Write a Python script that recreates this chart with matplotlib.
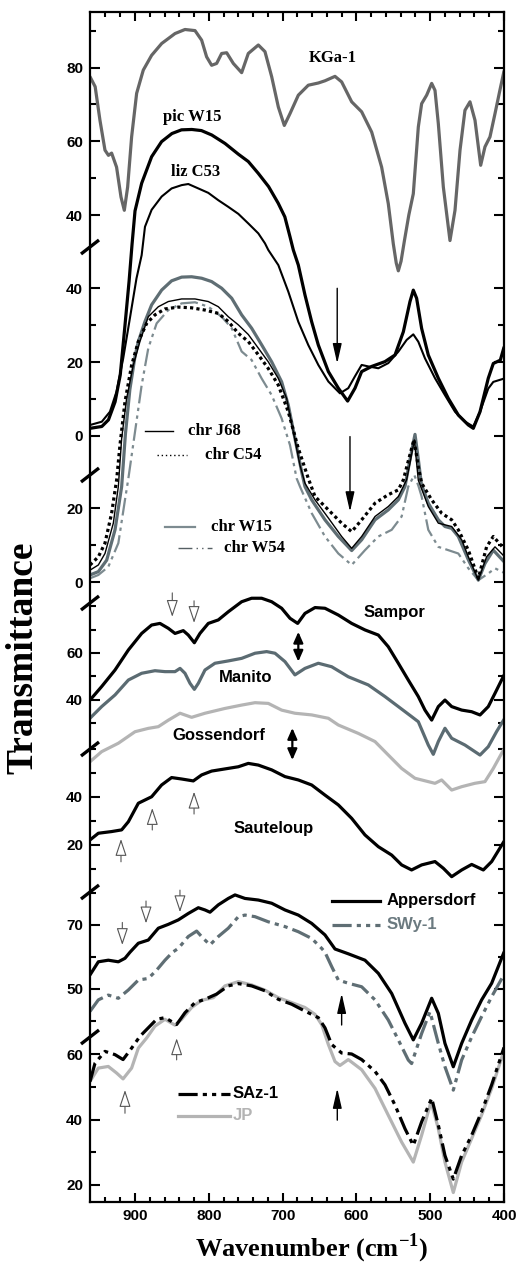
import matplotlib
matplotlib.use("Agg")
import matplotlib.pyplot as plt
import numpy as np

# ---------------- DATA (wavenumber in cm-1, transmittance in each panel's own units) -------------
kga1_wn = [961, 954, 947.5, 940.7, 936, 931.7, 925, 919, 914.5, 910, 904.6, 897.8, 888.8, 877.5, 863.9,
           845.8, 832.3, 818.7, 809.7, 803, 796.2, 789.4, 782.6, 775.8, 766.8, 755.5, 746.5, 732.9, 723.9,
           714.8, 705.8, 697.7, 690, 678.7, 665.2, 651.6, 642.6, 629, 620, 606.4, 592.9, 579.3, 565.8,
           556.8, 550, 546, 543.2, 539.5, 535, 529, 522.9, 516.1, 511.6, 504.8, 498, 493.5, 489, 482.2,
           473.2, 466.4, 459.6, 452.9, 446.1, 439.3, 431.6, 425.8, 419, 412.2, 405.6, 400]
kga1_t = [77.5, 74.8, 65.7, 57.6, 56.2, 56.8, 53, 44.9, 41.3, 47.6, 61.2, 73, 79.3, 83.3, 86.5,
          89.2, 90.3, 90, 87.4, 82.9, 80.6, 81.1, 83.8, 84, 81.1, 78.6, 83.8, 86.1, 84.3,
          77.5, 69.3, 64.3, 67.5, 72.5, 75.2, 75.8, 76.4, 77.6, 76.1, 70.7, 68, 62.5, 53,
          43.1, 32.2, 27, 24.9, 27.5, 33, 40, 45.8, 63.9, 70.2, 72.5, 75.7, 73.8, 64.8, 47.6,
          33.1, 41.3, 57.6, 68.4, 70.7, 65.7, 53.5, 58.5, 61.2, 67.5, 73.8, 79]

picw15_wn = [961, 945, 936, 927, 920, 914, 908, 904, 900, 891, 877.5, 864, 850, 837, 823, 810, 796, 778,
             760, 746.5, 733, 719, 706, 697, 690, 685.5, 678.7, 669.7, 660.6, 651.6, 638, 624.5, 611.9,
             601.9, 592.9, 579.3, 561.3, 547.7, 536.4, 527.4, 522.9, 518.4, 511.6, 502.6, 489, 475.4,
             461.9, 448.3, 441.6, 432.5, 421.3, 414.5, 405, 400]
picw15_t = [2.0, 2.5, 4.3, 9.2, 16.5, 29.1, 42, 52, 61, 68.5, 75.7, 79.8, 82, 83, 83.1, 82.8, 81.6, 79.3,
            76.4, 74.4, 71.2, 67.6, 63.1, 59.4, 54, 50.4, 46.3, 38.2, 30.9, 24.6, 17.4, 12.9, 9.4,
            12.9, 17.4, 18.8, 20.1, 21.9, 28.2, 36.4, 39.5, 37.3, 29.1, 21.9, 15.6, 10.1,
            5.6, 2.9, 2.0, 6.5, 15.6, 19.6, 20.5, 24]

lizc53_wn = [961, 945, 934, 925, 916, 907, 898, 891, 886.5, 877.5, 863.9, 850.4, 836.8, 827.8, 814.2,
             800.7, 787.1, 773.6, 760, 746.5, 732.9, 723.9, 719.4, 705.8, 692.3, 678.7, 665.2, 651.6,
             638, 622.3, 611, 602, 592.9, 583.9, 570.3, 556.8, 543.2, 531.9, 522.9, 516.1, 507.1,
             493.5, 480, 466.4, 452.9, 441.6, 432.5, 421.3, 414.5, 400]
lizc53_t = [2.9, 3.8, 6.5, 12, 21, 31.8, 42.7, 49, 56.7, 61.3, 64.9, 67.1, 68, 68.3, 67.1,
            65.9, 63.9, 62.1, 60.2, 57.6, 54.9, 52.2, 50.4, 46.3, 39.1, 30.9, 24.6, 19.2,
            14.7, 11.5, 12.9, 16.1, 19.2, 18.8, 18.3, 19.7, 22.8, 26, 27.5, 25.5, 21,
            15.6, 11, 6.5, 3.8, 2.5, 6.5, 12.8, 14.6, 15.5]

chrj68_wn = [961, 949.7, 940.7, 929.4, 922.6, 918.1, 911.4, 902.3, 893.3, 882, 868.4, 854.9, 836.8, 818.7,
             800.7, 787.1, 773.6, 760, 746.5, 732.9, 719.4, 705.8, 694.5, 685.5, 676.5, 669.7, 656.1,
             638, 620, 606.4, 592.9, 574.8, 556.8, 543.2, 532, 527, 521.5, 516.1, 502.6, 489, 470.9,
             457.3, 448.3, 434.8, 423.6, 412.2, 400]
chrj68_t = [3.2, 4.6, 7.7, 15.9, 25.8, 38.8, 49.6, 58.6, 65, 71.7, 74.4, 75.8, 76.5, 76.5,
            75.8, 74.4, 71.7, 69.5, 66.9, 63.2, 59.5, 55, 49.6, 40.6, 31.6, 26.7, 22.2,
            17.3, 12.3, 9.1, 12.3, 17.7, 20.4, 23.1, 27.6, 32.5, 38.4, 27.5, 20.4, 15.9, 15,
            11.4, 6.8, 0.5, 6.8, 9.5, 7]

chrc54_wn = [961, 949.7, 940.7, 931.7, 924.9, 920.4, 913.6, 904.6, 895.5, 884.2, 873, 859.4, 841.3, 823.3,
             805.2, 787.1, 773.6, 760, 746.5, 732.9, 719.4, 705.8, 692.3, 678.7, 665.2, 656.1, 638, 620,
             606.4, 592.9, 574.8, 556.8, 543.2, 536.4, 528, 522, 516, 511.6, 498, 484.5, 470.9, 461.9,
             448.3, 434.8, 423.6, 414.5, 400]
chrc54_t = [4.6, 6.8, 10.5, 18.6, 27.6, 37, 48.7, 58.6, 65, 69.9, 72.2, 73.8, 74.3, 74.1,
            73.5, 72.6, 70.4, 67.2, 65, 61.4, 57.7, 53.2, 46, 36.1, 28, 23.1, 19.5, 15.9,
            13.6, 16.8, 21.3, 23.6, 24.9, 27.6, 34, 38.5, 31, 26.7, 22.2, 18.6, 16.8, 14.1,
            8.6, 1, 9.5, 12.3, 9]

chrw15_wn = [961, 949.7, 938.4, 927.1, 918.1, 913, 907, 900, 895.5, 886.5, 877.5, 863.9, 850.4, 836.8,
             823.3, 809.7, 796.2, 782.6, 769, 755.5, 742, 728.4, 714.8, 701.3, 692.3, 683.3, 674.2,
             669.7, 660.6, 642.6, 624.5, 606.4, 592.9, 574.8, 556.8, 543.2, 534.2, 527.5, 520.6, 516,
             512, 502.6, 489, 480, 470.9, 461.9, 448.3, 434.8, 425.8, 414.5, 400]
chrw15_t = [1.9, 2.8, 5.9, 14.1, 25.8, 40, 52, 61, 65, 70.4, 74.9, 78.9, 81.4, 82.4,
            82.5, 82.1, 81.2, 79.4, 76.7, 72.2, 68.6, 64.1, 59.5, 54.1, 47.8, 38.8, 29.8,
            25.8, 22.2, 16.8, 12.3, 8.5, 11.4, 16.8, 19.5, 22.2, 25.8, 33, 39.9, 33,
            26.5, 21.3, 16.8, 15, 14.5, 12.3, 6, 0.5, 5, 8.6, 5.5]

chrw54_wn = [961, 949.7, 936.2, 922.6, 913.6, 909, 900, 891, 882, 870.7, 854.9, 836.8, 818.7, 800.7,
             782.6, 769, 755.5, 742, 728.4, 714.8, 701.3, 690, 681, 676.5, 660.6, 642.6, 624.5, 606.4,
             588.4, 570.3, 552.2, 538.7, 529.7, 521.5, 516, 511.6, 502.6, 489, 475.4, 461.9, 448.3,
             434.8, 421.3, 412.2, 400]
chrw54_t = [1, 1.9, 4.1, 10.5, 22.2, 28, 40.6, 53.2, 63.2, 69.9, 73.5, 75.3, 75.6, 74.4,
            71.7, 68.6, 62.3, 60, 55, 50.5, 44.2, 37, 28, 25.8, 18.6, 12.3, 7.7, 4.6,
            8.6, 12.3, 14.1, 17.7, 25.8, 28.9, 26, 23.1, 14.1, 9.5, 8.6, 7.7, 3.7,
            0.5, 2.3, 3.7, 2.5]

sampor_wn = [961, 945.2, 927.1, 909, 891, 877.5, 866.2, 854.9, 845.8, 834.6, 827.8, 819.6, 812, 800.7,
             787.1, 773.6, 755.5, 742, 728.4, 714.8, 701.3, 690, 679.6, 669.7, 656.1, 642.6, 624.5,
             606.4, 588.4, 570.3, 556.8, 543.2, 529.7, 516.1, 507.1, 498, 489, 480, 470.9, 457.3,
             443.8, 432.5, 421.3, 412.2, 400]
sampor_t = [39.8, 45.6, 52.7, 61.3, 68.4, 72, 72.7, 70.6, 68.4, 69.6, 67.7, 64.4, 68.4, 72.7,
            74.2, 77.7, 82, 83.5, 83.5, 82, 79.2, 74.9, 72.7, 77, 79.5, 79.2, 76.3,
            72.7, 69.9, 67.7, 62.7, 55.6, 48.4, 41.3, 35.5, 31.2, 37, 39.8, 37, 35.5,
            34.8, 33.4, 37, 42.7, 50.5]

manito_wn = [961, 945.2, 927.1, 909, 891, 873, 859.4, 845.8, 839, 832.3, 825.5, 819.6, 814.2, 805.2,
             791.7, 773.6, 755.5, 737.4, 721.6, 710.3, 696.8, 683.3, 669.7, 651.6, 633.5, 611, 583.9,
             561.3, 543.2, 525.2, 516.1, 502.6, 495.8, 489, 480, 470.9, 452.9, 432.5, 421.3, 410, 400]
manito_t = [32, 37, 42, 48.4, 51.3, 52.4, 52, 52, 53.4, 51.3, 47, 44.4, 47, 52.7,
            55.6, 56.6, 57.7, 59.9, 60.6, 59.9, 56.3, 50.6, 53.4, 55.6, 54.1, 49.8, 46.3,
            41.3, 37, 32.7, 30.5, 20.5, 16.5, 22, 27.7, 23.4, 20.5, 16.2, 19.8, 26.3, 31.5]

gossendorf_wn = [961, 945.2, 922.6, 900, 882, 868.4, 854.9, 839, 823.3, 805.2, 778.1, 755.5, 737.4, 719.4,
                 701.3, 683.3, 660.6, 638, 624.5, 597.4, 574.8, 556.8, 538.7, 520.6, 502.6, 493.5, 484.5,
                 470.9, 457.3, 439.6, 425.8, 414.5, 400]
gossendorf_t = [54.7, 58.9, 62.4, 67.2, 68.6, 69.3, 72, 74.9, 73.2, 74.9, 76.9, 78.3, 79.3, 79,
                76.2, 74.9, 74.2, 72.8, 70, 66.5, 63.1, 57.5, 51.9, 47.8, 46.4, 45.7, 47.1,
                42.9, 44.3, 45.7, 46.4, 51.9, 60]

sauteloup_wn = [961, 949.7, 931.7, 918.1, 909, 895.5, 877.5, 864, 850.4, 836.8, 821, 809.7, 796.2, 778.1,
                760, 746.5, 732.9, 714.8, 696.8, 678.7, 660.6, 642.6, 624.5, 606.4, 588.4, 570.3, 552.2,
                538.7, 525.2, 511.6, 493.5, 482.2, 470.9, 457.3, 443.8, 428, 416.7, 400]
sauteloup_t = [22.1, 24.9, 25.6, 26.3, 29.7, 37.4, 40.1, 45, 48.1, 47.5, 46.7, 49.2, 50.8, 51.7,
               52.6, 54, 53.3, 51.3, 48.5, 47.1, 45, 40.8, 36.7, 31.1, 24.2, 19.3, 15.8,
               11.7, 9.6, 11.7, 13.1, 10.3, 6.8, 9.6, 11.9, 9.6, 13.1, 21.5]

appersdorf_wn = [961, 949.7, 936.2, 922.6, 913.6, 906.8, 895.5, 882, 868.4, 854.9, 841.3, 827.8, 814.2,
                 805.2, 798.4, 787.1, 773.6, 764.5, 751, 732.9, 714.8, 696.8, 678.7, 660.6, 642.6, 629,
                 611, 588.4, 570.3, 552.2, 534.2, 522.9, 511.6, 498, 489, 480, 468.7, 457.4, 443.8,
                 430.3, 416.7, 400]
appersdorf_t = [54.4, 58.5, 59, 58.5, 59.6, 61.5, 64.3, 65.3, 69, 70.2, 71.6, 73.6, 75.4,
                74.7, 74, 76.3, 78.3, 79.4, 78.3, 77.8, 76.8, 74.7, 73.1, 70.5, 66.9, 62.5,
                61, 59, 54.9, 48.6, 39.3, 34.1, 39.3, 47.1, 42.4, 33, 25.7, 33, 40.3,
                46.6, 51.8, 61.5]

swy1_wn = [961, 949.7, 936.2, 922.6, 909, 895.5, 882, 870.7, 859.4, 849, 841.3, 827.8, 816.5, 807.5,
           798.4, 787.1, 773.6, 760, 751, 737.4, 719.4, 696.8, 678.7, 660.6, 647.1, 642.6, 633.5, 624.5,
           611, 592.9, 574.8, 556.8, 543.2, 529.7, 525.2, 511.6, 500.3, 489, 480, 468.7, 457.4, 443.8,
           430.3, 416.7, 400]
swy1_t = [43, 46.6, 48.1, 47.1, 49.7, 52.8, 53.3, 55.9, 59, 61.5, 62.7, 66.4, 68.1, 65.8,
          63.8, 66.4, 69, 72.6, 73.1, 72.6, 71, 69.5, 67.9, 65.8, 62.7, 61.5, 57, 52.8,
          51.8, 50.7, 46.6, 40.3, 34.1, 27.8, 26.7, 36.1, 42.9, 33, 25.7, 18.4, 27.8, 35,
          41.4, 47.6, 54.5]

saz1_wn = [961, 954.2, 940.7, 927.1, 916.2, 904.6, 893.3, 882, 870.7, 859.4, 843.6, 832.3, 818.7, 805.2,
           789.4, 773.6, 760, 742, 723.9, 705.8, 687.7, 669.7, 651.6, 642.6, 633.5, 620, 606.4, 592.9,
           574.8, 561.3, 547.7, 534.2, 522.9, 511.6, 498, 489, 480, 468.7, 457.4, 443.8, 430.3, 416.7, 400]
saz1_t = [51.6, 57.2, 60.8, 59.8, 58.3, 61.8, 65.4, 68, 70.6, 71.1, 69, 72.6, 75.7, 76.7,
          78.3, 80.8, 81.5, 80.8, 79.3, 76.7, 75.2, 73.1, 71.1, 68, 62.9, 60.3, 60, 58.3,
          54.7, 50.6, 44.4, 37.2, 32.1, 39.3, 46.5, 38.3, 29, 21.8, 29, 35.2, 42.4, 50.6, 62]

jp_wn = [961, 949.7, 936.2, 925, 916.2, 904.6, 895.5, 884.2, 873, 859.4, 845.8, 836.8, 823.3, 809.7,
         793.9, 778.1, 760, 742, 723.9, 705.8, 687.7, 669.7, 656.1, 647.1, 638, 629, 622.3, 611, 592.9,
         574.8, 556.8, 538.7, 522.9, 511.6, 498.9, 489, 480, 468.7, 457.4, 443.8, 430.3, 416.7, 400]
jp_t = [51.6, 55.7, 56.2, 54.2, 52.4, 55.7, 61.8, 64.9, 68.5, 70.6, 68.8, 70.6, 74.2, 76.4,
        77.2, 80.8, 82.1, 81.1, 79.5, 77.2, 75.7, 74.2, 72.1, 69, 62.9, 57.7, 56.5, 58.3, 55.2,
        49.5, 41.3, 33.1, 27, 35.2, 45.4, 37.2, 27, 17.7, 27, 34.2, 41.4, 49.5, 61]

# y tick values of every stacked panel (labelled, unlabelled)
p1_major, p1_minor = [80, 60, 40], [90, 70, 50]
p2_major, p2_minor = [40, 20, 0], [30, 10]
p3_major, p3_minor = [20, 0], [10]
p4_major, p4_minor = [60, 40], [80, 70, 50, 30]
p5_major, p5_minor = [40, 20], [60, 50, 30, 10, 0]
p6_major, p6_minor = [70, 50], [60, 40]
p7_major, p7_minor = [60, 40, 20], [50, 30]

# ---------------- LAYOUT ----------------
W, H = 519, 1267
AX_L, AX_R, AX_T, AX_B = 90, 504, 12, 1202      # pixel frame of the axes
XMAX, XMIN = 961, 400
# panel placement on the common (pixel-row) y scale: value_ref, row_ref, rows per unit
PANEL = {
    "p1": (80, 67.5, 3.69),
    "p2": (40, 288.3, 3.685),
    "p3": (20, 508, 3.7),
    "p4": (60, 653, 2.33),
    "p5": (40, 797, 2.4),
    "p6": (70, 925, 3.2),
    "p7": (60, 1054, 3.275),
}
BREAK_ROWS = [247, 475, 603, 749, 892, 1037]


def Y(panel, v):
    vr, rr, k = PANEL[panel]
    return rr - k * (np.asarray(v, dtype=float) - vr)


plt.rcParams["mathtext.fontset"] = "custom"
plt.rcParams["mathtext.bf"] = "Liberation Serif:bold"
plt.rcParams["mathtext.rm"] = "Liberation Serif:bold"

fig = plt.figure(figsize=(W / 100, H / 100), dpi=100)
ax = fig.add_axes([AX_L / W, 1 - AX_B / H, (AX_R - AX_L) / W, (AX_B - AX_T) / H])
ax.set_xlim(XMAX, XMIN)
ax.set_ylim(AX_B, AX_T)

KGRAY = "#666666"
BGRAY = "#5f6e74"
LGRAY = "#b4b4b4"
DDOT = (0, (6, 1.6, 1.3, 1.6, 1.3, 1.6))

curves = [
    (kga1_wn, kga1_t, "p1", dict(color=KGRAY, lw=2.3)),
    (picw15_wn, picw15_t, "p2", dict(color="black", lw=2.3)),
    (lizc53_wn, lizc53_t, "p2", dict(color="black", lw=1.5)),
    (chrw54_wn, chrw54_t, "p3", dict(color="#7d8b90", lw=1.6, ls=(0, (8, 2, 1.5, 2, 1.5, 2)))),
    (chrw15_wn, chrw15_t, "p3", dict(color=BGRAY, lw=2.3)),
    (chrc54_wn, chrc54_t, "p3", dict(color="black", lw=2.3, ls=(0, (1, 1)))),
    (chrj68_wn, chrj68_t, "p3", dict(color="black", lw=1.0)),
    (sampor_wn, sampor_t, "p4", dict(color="black", lw=2.3)),
    (manito_wn, manito_t, "p4", dict(color="#5b6b72", lw=2.3)),
    (gossendorf_wn, gossendorf_t, "p5", dict(color=LGRAY, lw=2.3)),
    (sauteloup_wn, sauteloup_t, "p5", dict(color="black", lw=2.3)),
    (swy1_wn, swy1_t, "p6", dict(color=BGRAY, lw=2.3, ls=DDOT)),
    (appersdorf_wn, appersdorf_t, "p6", dict(color="black", lw=2.3)),
    (jp_wn, jp_t, "p7", dict(color=LGRAY, lw=2.3)),
    (saz1_wn, saz1_t, "p7", dict(color="black", lw=2.3, ls=DDOT)),
]
for wn, t, p, st in curves:
    ax.plot(wn, Y(p, t), solid_capstyle="round", solid_joinstyle="round", **st)

# ---------------- axes styling ----------------
major_pos, major_lab, minor_pos = [], [], []
for p, mj, mn in [("p1", p1_major, p1_minor), ("p2", p2_major, p2_minor), ("p3", p3_major, p3_minor),
                  ("p4", p4_major, p4_minor), ("p5", p5_major, p5_minor), ("p6", p6_major, p6_minor),
                  ("p7", p7_major, p7_minor)]:
    major_pos += list(Y(p, mj))
    major_lab += [str(v) for v in mj]
    minor_pos += list(Y(p, mn))
ax.set_yticks(major_pos)
ax.set_yticklabels(major_lab)
ax.set_yticks(minor_pos, minor=True)
ax.set_xticks([900, 800, 700, 600, 500, 400])
ax.set_xticks(np.arange(940, 400, -20), minor=True)

for s in ax.spines.values():
    s.set_linewidth(1.6)
ax.tick_params(axis="both", which="both", direction="in", top=True, right=True, width=1.5)
ax.tick_params(axis="y", which="major", length=7, pad=5)
ax.tick_params(axis="y", which="minor", length=4.5)
ax.tick_params(axis="x", which="major", length=6.5, pad=5)
ax.tick_params(axis="x", which="minor", length=3.5)
for lab in ax.get_xticklabels() + ax.get_yticklabels():
    lab.set_fontfamily("Liberation Sans")
    lab.set_fontweight("bold")
    lab.set_fontsize(11)

# axis breaks on the left spine
dxu = 9 / ((AX_R - AX_L) / (XMAX - XMIN))
for r in BREAK_ROWS:
    ax.plot([XMAX + dxu, XMAX - dxu], [r + 7, r - 7], color="black", lw=2.4, clip_on=False,
            solid_capstyle="butt", zorder=5)

fig.text(22.5 / W, 1 - 658 / H, "Transmittance", rotation=90, ha="center", va="center",
         family="Liberation Serif", weight="bold", fontsize=27)
fig.text(312 / W, 1 - 1248 / H, r"Wavenumber (cm$^{\mathbf{-1}}$)", ha="center", va="center",
         family="Liberation Serif", weight="bold", fontsize=19)

# ---------------- labels ----------------
SERIF = dict(family="Liberation Serif", weight="bold", fontsize=12, va="center", ha="left")
SANS = dict(family="Liberation Sans", weight="bold", fontsize=12, va="center", ha="left")

ax.text(665, Y("p1", 82.5), "KGa-1", **SERIF)
ax.text(862, Y("p2", 86.6), "pic W15", **SERIF)
ax.text(851, Y("p2", 71.6), "liz C53", **SERIF)
ax.text(591, Y("p4", 77.3), "Sampor", **SANS)
ax.text(787, Y("p4", 49.6), "Manito", **SANS)
ax.text(849.5, Y("p5", 65.8), "Gossendorf", **SANS)
ax.text(766, Y("p5", 27), "Sauteloup", **SANS)


def key(x0, x1, xt, p, v, label, style, textstyle, tcolor="black"):
    ax.plot([x0, x1], [Y(p, v)] * 2, **style)
    ax.text(xt, Y(p, v), label, color=tcolor, **textstyle)


key(886.5, 848.5, 828.6, "p3", 40.9, "chr J68", dict(color="black", lw=1.0), SERIF)
key(870.6, 830, 805.2, "p3", 34.3, "chr C54", dict(color="black", lw=1.0, ls=(0, (1, 2))), SERIF)
key(859.4, 818.7, 797.6, "p3", 14.9, "chr W15", dict(color="#7d8b90", lw=1.6), SERIF)
key(841.8, 795.7, 779.4, "p3", 9.1, "chr W54", dict(color="#555f63", lw=1.0, ls=(0, (10, 3, 1, 3, 1, 3))), SERIF)
key(633.5, 568, 559, "p6", 77.6, "Appersdorf", dict(color="black", lw=2.3), SANS)
key(633.5, 568, 559, "p6", 70, "SWy-1", dict(color=BGRAY, lw=2.3, ls=DDOT), SANS, "#6b7a80")
key(842, 771, 767.6, "p7", 47.8, "SAz-1", dict(color="black", lw=2.3, ls=DDOT), SANS)
key(842, 771, 767.6, "p7", 41.2, "JP", dict(color=LGRAY, lw=2.3), SANS, LGRAY)

# ---------------- arrows ----------------
def arrow(x, p, v_tail, v_head, kind):
    if kind == "filled":
        props = dict(arrowstyle="-|>,head_length=0.75,head_width=0.17", color="black", lw=1.0,
                     mutation_scale=16, shrinkA=0, shrinkB=0)
    elif kind == "hollow":
        props = dict(arrowstyle="-|>,head_length=0.75,head_width=0.25", fc="white", ec="#555555",
                     lw=0.8, mutation_scale=14, shrinkA=0, shrinkB=0)
    else:
        props = dict(arrowstyle="<|-|>,head_length=0.5,head_width=0.22", color="black", lw=1.6,
                     mutation_scale=13, shrinkA=0, shrinkB=0)
    ax.annotate("", xy=(x, Y(p, v_head)), xytext=(x, Y(p, v_tail)), arrowprops=props)


arrow(626, "p2", 40, 19.6, "filled")
arrow(608.7, "p3", 39.3, 19, "filled")
arrow(849.5, "p4", 85.8, 75.5, "hollow")
arrow(820, "p4", 82.4, 72.9, "hollow")
arrow(678.7, "p4", 69.1, 56.3, "double")
arrow(686.8, "p5", 68.75, 55.4, "double")
arrow(919, "p5", 13, 22.5, "hollow")
arrow(876.6, "p5", 26.25, 35.4, "hollow")
arrow(820, "p5", 32.9, 42.2, "hollow")
arrow(917.2, "p6", 70.8, 63.75, "hollow")
arrow(885.1, "p6", 77.5, 70.5, "hollow")
arrow(839.1, "p6", 80.9, 74, "hollow")
arrow(620, "p6", 38.75, 48.6, "filled")
arrow(625.9, "p7", 39.8, 49.5, "filled")
arrow(913.6, "p7", 41.9, 49, "hollow")
arrow(843.6, "p7", 58.2, 64.8, "hollow")

fig.savefig("out.png", dpi=100)
